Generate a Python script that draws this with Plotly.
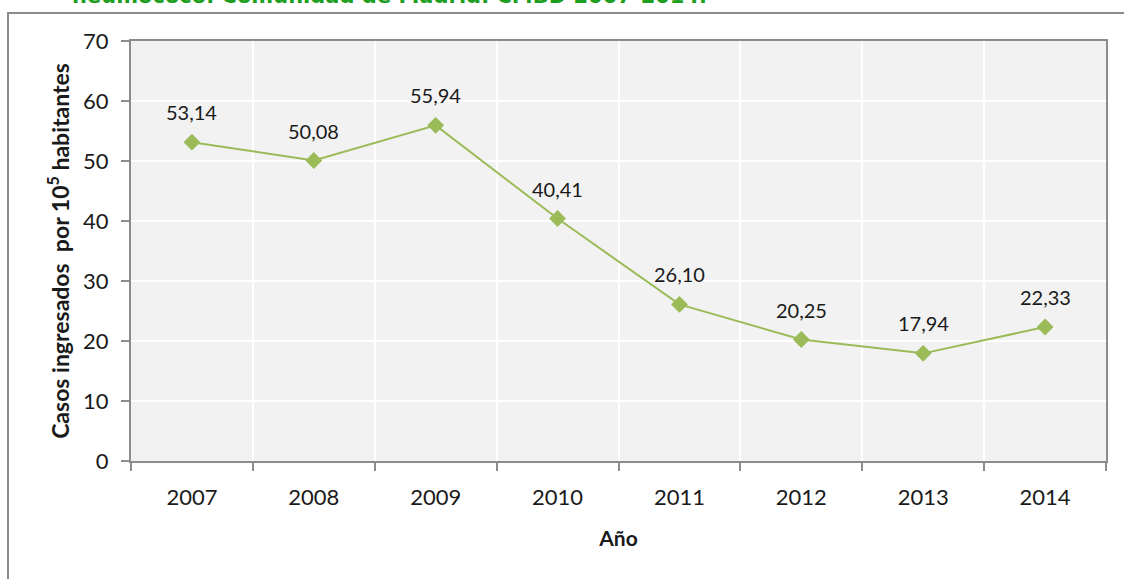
import plotly.graph_objects as go

years = ["2007", "2008", "2009", "2010", "2011", "2012", "2013", "2014"]
rates = [53.14, 50.08, 55.94, 40.41, 26.10, 20.25, 17.94, 22.33]
y_ticks = [0, 10, 20, 30, 40, 50, 60, 70]
title_text = "neumococo. Comunidad de Madrid. CMBD 2007-2014."
y_title = "Casos ingresados  por 10<sup>5</sup> habitantes"
x_title = "Año"

FONT = "Lato"
GREEN = "#9bbb59"
TXT = "#1a1a1a"
AXC = "#8c8c8c"

fig = go.Figure()
fig.add_trace(go.Scatter(
    x=years, y=rates, mode="lines+markers",
    line=dict(color=GREEN, width=2),
    marker=dict(symbol="diamond", size=13, color=GREEN),
    hoverinfo="skip", showlegend=False,
))

for i, yv in enumerate(rates):
    fig.add_annotation(
        x=i, y=yv, xref="x", yref="y", text=f"{yv:.2f}".replace(".", ","), showarrow=False,
        yshift=30, font=dict(family=FONT, size=20, color=TXT),
    )

# cropped title
fig.add_annotation(
    xref="paper", yref="paper", x=(709 - 131) / 975, y=(461 - 10) / 420,
    xanchor="right", yanchor="bottom", showarrow=False, text="<b>" + title_text + "</b>",
    font=dict(family="DejaVu Sans", size=21, color="#1e9e1e"),
)

# outer chart border
fig.add_shape(
    type="rect", xref="paper", yref="paper",
    x0=(8 - 131) / 975, x1=(1130 - 131) / 975,
    y0=(461 - 590) / 420, y1=(461 - 13) / 420,
    line=dict(color=AXC, width=2), fillcolor="rgba(0,0,0,0)", layer="below",
)

fig.update_layout(
    width=1124, height=579,
    margin=dict(l=131, r=18, t=41, b=118),
    paper_bgcolor="white", plot_bgcolor="#f2f2f2",
    font=dict(family=FONT, color=TXT),
    xaxis=dict(
        type="category", range=[-0.5, 7.5], tickson="boundaries",
        showgrid=True, gridcolor="white", gridwidth=1.5,
        ticks="outside", ticklen=8, tickcolor=AXC, tickwidth=1.5,
        showline=True, linecolor=AXC, linewidth=2, mirror=True,
        tickfont=dict(family=FONT, size=22, color=TXT), ticklabelstandoff=16,
        title=dict(text="<b>" + x_title + "</b>", font=dict(family=FONT, size=21, color=TXT), standoff=22),
    ),
    yaxis=dict(
        range=[0, 70], tickvals=y_ticks, ticktext=[str(v) for v in y_ticks],
        showgrid=True, gridcolor="white", gridwidth=1.5, zeroline=False,
        ticks="outside", ticklen=8, tickcolor=AXC, tickwidth=1.5,
        showline=True, linecolor=AXC, linewidth=2, mirror=True,
        tickfont=dict(family=FONT, size=22, color=TXT), ticklabelstandoff=8,
        title=dict(text="<b>" + y_title + "</b>", font=dict(family=FONT, size=23, color=TXT), standoff=7),
    ),
)

fig.write_html("out.html")
